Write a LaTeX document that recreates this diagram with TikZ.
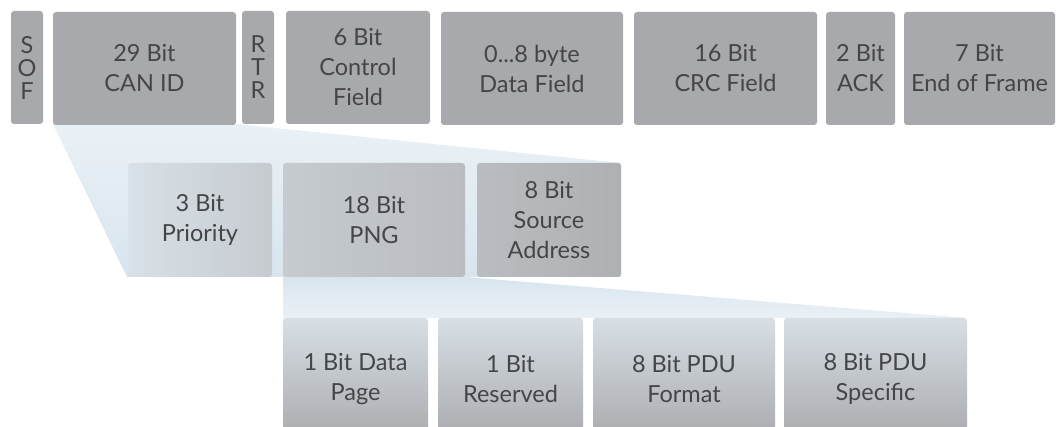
\documentclass[tikz,border=0pt]{standalone}
\usepackage{fontspec}
\setmainfont{Lato}
\definecolor{boxgray}{HTML}{A8A9AC}
\definecolor{txt}{HTML}{454547}
\definecolor{blueA}{HTML}{EAF1F6}
\definecolor{blueB}{HTML}{D8E5EE}
\definecolor{midL}{HTML}{D8E1E7}
\definecolor{midR}{HTML}{AFB0B3}
\definecolor{botT}{HTML}{D7DFE5}
\definecolor{botB}{HTML}{A9AAAD}
\begin{document}
\begin{tikzpicture}[x=1pt,y=-1pt,
  fld/.style={rectangle, rounded corners=3pt, inner sep=0pt, align=center,
    text=txt, font=\fontsize{23.5}{30}\selectfont},
  topfld/.style={fld, fill=boxgray, minimum height=113pt},
  midfld/.style={fld, minimum height=114pt},
  botfld/.style={fld, minimum height=122pt, top color=botT, bottom color=botB},
  vert/.style={font=\fontsize{23.5}{23}\selectfont}]
\useasboundingbox (0,0) rectangle (1062,427);
\clip (0,0) rectangle (1062,427);
\fill[white] (0,0) rectangle (1062,427);
% fans
\coordinate (f1a) at (53,124);
\coordinate (f1b) at (236,124);
\coordinate (f1c) at (621,163);
\coordinate (f1d) at (621,277);
\coordinate (f1e) at (127,277);
\shade[top color=blueA, bottom color=blueB] (f1a) -- (f1b) -- (f1c) -- (f1d) -- (f1e) -- cycle;
\coordinate (f2a) at (283,277);
\coordinate (f2b) at (465,277);
\coordinate (f2c) at (967,318);
\coordinate (f2d) at (283,318);
\shade[top color=blueB, bottom color=blueA] (f2a) -- (f2b) -- (f2c) -- (f2d) -- cycle;
% top row
\node[topfld, vert, minimum width=32pt] (sof) at (27,67.5) {S\\O\\F};
\node[topfld, minimum width=183pt] (canid) at (144.5,68.5) {29 Bit\\CAN ID};
\node[topfld, vert, minimum width=32pt] (rtr) at (258,67.5) {R\\T\\R};
\node[topfld, minimum width=144pt] (ctrl) at (358,67.5) {6 Bit\\Control\\Field};
\node[topfld, minimum width=182pt] (data) at (532,68.5) {0...8 byte\\Data Field};
\node[topfld, minimum width=183pt] (crc) at (725.5,68.5) {16 Bit\\CRC Field};
\node[topfld, minimum width=69pt] (ack) at (860.5,68.5) {2 Bit\\ACK};
\node[topfld, minimum width=151pt] (eof) at (979.5,68.5) {7 Bit\\End of Frame};
% middle row
\node[midfld, minimum width=144pt, left color=midL, right color=midL!55!midR] (prio) at (200,220) {3 Bit\\Priority};
\node[midfld, minimum width=182pt, left color=midL!55!midR, right color=midL!25!midR] (png) at (374,220) {18 Bit\\PNG};
\node[midfld, minimum width=144pt, left color=midL!25!midR, right color=midR] (src) at (549,220) {8 Bit\\Source\\Address};
% bottom row
\node[botfld, minimum width=145pt] (dp) at (355.5,379) {1 Bit Data\\Page};
\node[botfld, minimum width=145pt] (res) at (510.5,379) {1 Bit\\Reserved};
\node[botfld, minimum width=182pt] (pf) at (684,379) {8 Bit PDU\\Format};
\node[botfld, minimum width=183pt] (ps) at (875.5,379) {8 Bit PDU\\Specific};
\end{tikzpicture}
\end{document}
